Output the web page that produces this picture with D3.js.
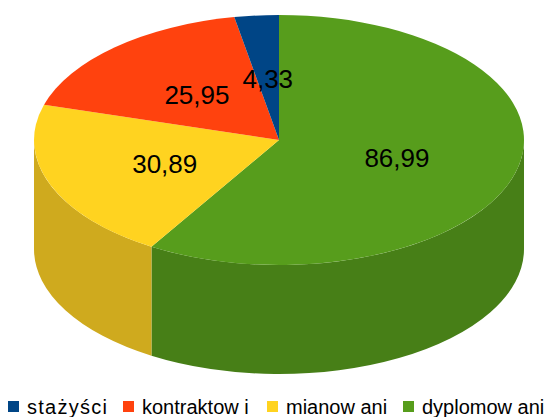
<!DOCTYPE html>
<html><head><meta charset="utf-8">
<script src="https://cdn.jsdelivr.net/npm/d3@7"></script>
<style>body{margin:0;background:#fff}svg{display:block}</style>
</head><body>
<script>
const categories = ["stażyści", "kontraktow i", "mianow ani", "dyplomow ani"];
const values = [4.33, 25.95, 30.89, 86.99];
const labels = ["4,33", "25,95", "30,89", "86,99"];
const topColors = ["#004586", "#ff420e", "#ffd320", "#579d1c"];
const sideColors = ["#00396e", "#d0360b", "#cfaa1e", "#477f17"];

(function () {
const W = 550, H = 417;
const cx = 279, cy = 140, rx = 245, ry = 125, depth = 109;

const svg = d3.select("body").append("svg").attr("width", W).attr("height", H);

// pie drawn clockwise from 12 o'clock, largest slice first (reverse of legend order)
const order = [3, 2, 1, 0];
const pie = d3.pie().sort(null).value(i => values[i]);
const arcs = pie(order);

const pt = (a, dy = 0) => [cx + rx * Math.sin(a), cy - ry * Math.cos(a) + dy];

// side walls (front half: angles between PI/2 and 3PI/2)
const sides = svg.append("g");
arcs.forEach(d => {
  const a0 = Math.max(d.startAngle, Math.PI / 2);
  const a1 = Math.min(d.endAngle, 3 * Math.PI / 2);
  if (a1 <= a0) return;
  const p0 = pt(a0), p1 = pt(a1), q1 = pt(a1, depth), q0 = pt(a0, depth);
  const large = (a1 - a0) > Math.PI ? 1 : 0;
  const path = `M${p0[0]},${p0[1]} A${rx},${ry} 0 ${large} 1 ${p1[0]},${p1[1]} L${q1[0]},${q1[1]} A${rx},${ry} 0 ${large} 0 ${q0[0]},${q0[1]} Z`;
  sides.append("path").attr("d", path).attr("fill", sideColors[d.data]);
});

// top surface
const arc = d3.arc().innerRadius(0).outerRadius(rx);
const topG = svg.append("g").attr("transform", `translate(${cx},${cy}) scale(1,${ry / rx})`);
topG.selectAll("path").data(arcs).join("path")
  .attr("d", arc)
  .attr("fill", d => topColors[d.data]);

// labels
svg.append("g").selectAll("text").data(arcs).join("text")
  .attr("x", d => cx + arc.centroid(d)[0])
  .attr("y", d => cy + arc.centroid(d)[1] * ry / rx + 1)
  .attr("text-anchor", "middle")
  .attr("dominant-baseline", "central")
  .attr("font-family", "Liberation Sans, Arial, sans-serif")
  .attr("font-size", 26)
  .attr("fill", "#000")
  .text(d => labels[d.data]);

// legend
const legX = [8, 123, 267, 403];
const leg = svg.append("g");
categories.forEach((c, i) => {
  leg.append("rect").attr("x", legX[i]).attr("y", 401).attr("width", 11).attr("height", 11).attr("fill", topColors[i]);
  const t = leg.append("text").attr("x", legX[i] + 19).attr("y", 414)
    .attr("font-family", "Liberation Sans, Arial, sans-serif")
    .attr("font-size", 20).attr("fill", "#000").text(c);
  if (i === 0) t.attr("textLength", 80).attr("lengthAdjust", "spacing");
});
})();
</script>
</body></html>
